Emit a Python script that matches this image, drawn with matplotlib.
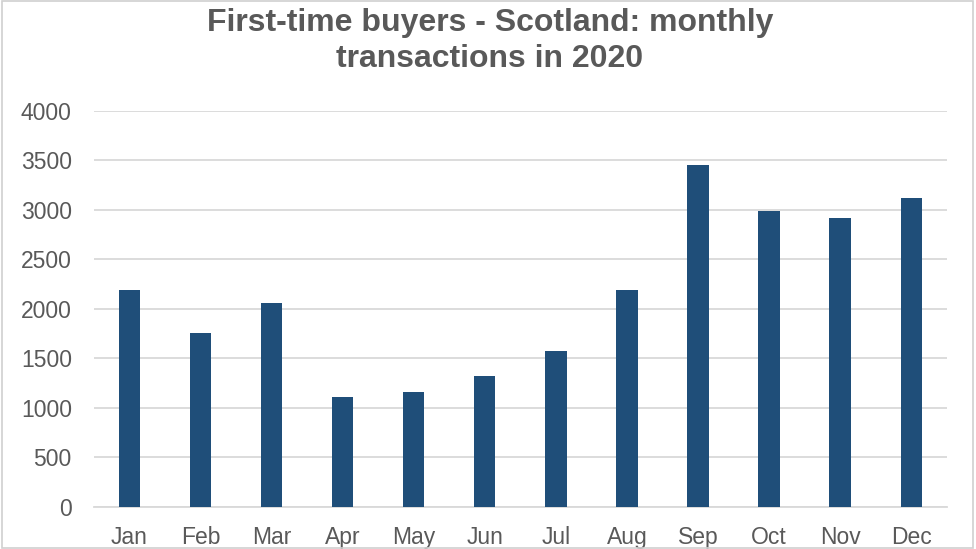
import matplotlib.pyplot as plt
from matplotlib.patches import Rectangle

# -------------------------
# Data
# -------------------------
months = ["Jan", "Feb", "Mar", "Apr", "May", "Jun",
          "Jul", "Aug", "Sep", "Oct", "Nov", "Dec"]
transactions = [2186, 1751, 2054, 1111, 1162, 1320,
                1570, 2186, 3449, 2990, 2913, 3121]
y_ticks = [0, 500, 1000, 1500, 2000, 2500, 3000, 3500, 4000]

title = "First-time buyers - Scotland: monthly\ntransactions in 2020"

# -------------------------
# Style
# -------------------------
plt.rcParams["font.family"] = ["Liberation Sans", "DejaVu Sans"]
text_grey = "#595959"
grid_grey = "#d9d9d9"
bar_blue = "#1f4e79"

fig = plt.figure(figsize=(9.76, 5.49), dpi=100)
ax = fig.add_axes([0.0963, 0.077, 0.8737, 0.7213])

x = range(len(months))
ax.bar(x, transactions, width=0.3, color=bar_blue, zorder=3)

ax.set_xlim(-0.5, len(months) - 0.5)
ax.set_ylim(0, 4000)
ax.set_yticks(y_ticks)
ax.set_yticklabels([str(v) for v in y_ticks])
ax.set_xticks(list(x))
ax.set_xticklabels(months)

ax.grid(axis="y", color=grid_grey, linewidth=1.3, zorder=0)
for side in ["top", "right", "left"]:
    ax.spines[side].set_visible(False)
ax.spines["bottom"].set_color(grid_grey)
ax.spines["bottom"].set_linewidth(1.3)

ax.tick_params(axis="both", length=0, labelsize=16.5, colors=text_grey)
ax.tick_params(axis="y", pad=16)
ax.tick_params(axis="x", pad=14)

fig.text(0.502, 0.985, title, ha="center", va="top", fontsize=23,
         fontweight="bold", color=text_grey, linespacing=1.27)

# light border round the chart
fig.patches.append(Rectangle((0.002, 0.002), 0.995, 0.996, transform=fig.transFigure,
                             fill=False, edgecolor="#d0d0d0", linewidth=1.2))

fig.savefig("out.png", dpi=100, facecolor="white")
